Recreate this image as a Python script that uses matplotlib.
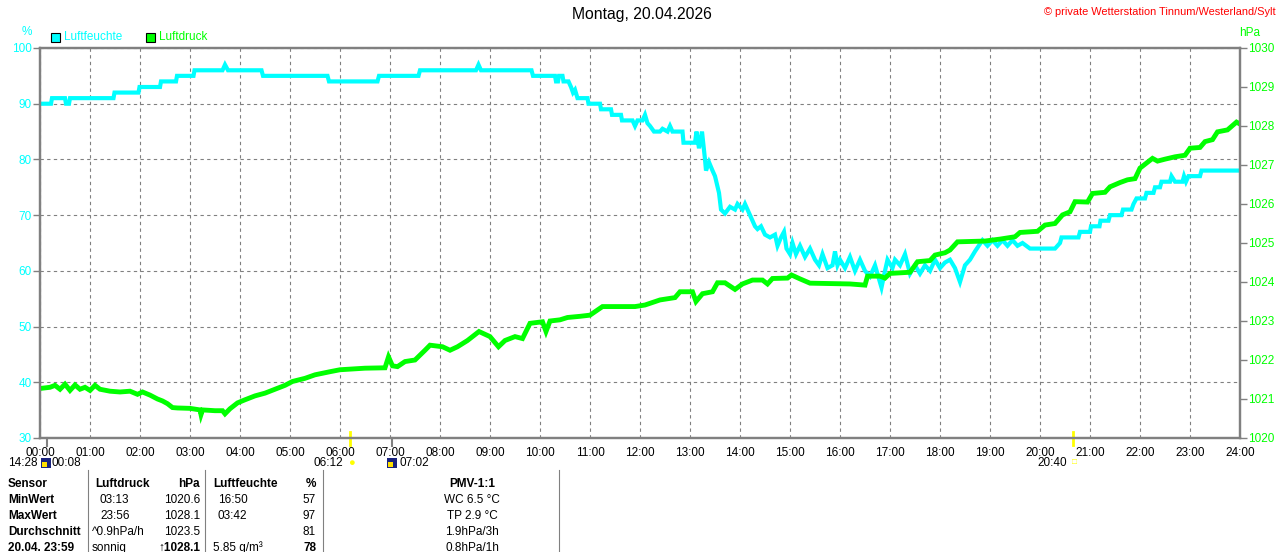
import matplotlib
matplotlib.use("Agg")
import matplotlib.pyplot as plt
from matplotlib.patches import Rectangle

plt.rcParams['font.family'] = ['Liberation Sans', 'DejaVu Sans']

# humidity (%), hours of day
hum_t = [0.0, 0.22, 0.24, 0.5, 0.52, 0.58, 0.6, 1.47, 1.49, 1.97, 1.99, 2.4, 2.42, 2.72, 2.74,
         3.07, 3.09, 3.65, 3.7, 3.76, 4.43, 4.46, 5.75, 5.78, 6.75, 6.78, 7.57, 7.6, 8.72, 8.77,
         8.82, 9.83, 9.86, 10.3, 10.32, 10.36, 10.38, 10.45, 10.47, 10.57, 10.62, 10.66, 10.7,
         10.75, 10.95, 10.97, 11.2, 11.22, 11.42, 11.44, 11.62, 11.64, 11.85, 11.9, 11.95, 12.05,
         12.1, 12.15, 12.2, 12.28, 12.4, 12.45, 12.55, 12.6, 12.65, 12.85, 12.87, 13.1, 13.13,
         13.18, 13.24, 13.3, 13.32, 13.38, 13.45, 13.5, 13.58, 13.62, 13.7, 13.8, 13.9, 13.95,
         14.05, 14.1, 14.2, 14.25, 14.3, 14.35, 14.42, 14.5, 14.6, 14.7, 14.75, 14.82, 14.88,
         14.93, 15.0, 15.05, 15.12, 15.2, 15.3, 15.4, 15.5, 15.58, 15.65, 15.75, 15.85, 15.9,
         15.95, 16.0, 16.1, 16.2, 16.3, 16.4, 16.5, 16.6, 16.7, 16.83, 16.9, 16.95, 17.05, 17.1,
         17.2, 17.3, 17.4, 17.5, 17.6, 17.7, 17.8, 17.9, 18.0, 18.1, 18.2, 18.3, 18.4, 18.5,
         18.6, 18.7, 18.85, 18.95, 19.05, 19.15, 19.25, 19.35, 19.45, 19.55, 19.65, 19.8, 20.3,
         20.4, 20.43, 20.77, 20.8, 21.0, 21.02, 21.19, 21.21, 21.37, 21.4, 21.63, 21.66, 21.83,
         21.87, 21.93, 22.1, 22.13, 22.27, 22.3, 22.4, 22.43, 22.6, 22.63, 22.7, 22.85, 22.88,
         22.92, 22.97, 23.2, 23.23, 24.0]
hum_v = [90, 90, 91, 91, 90, 90, 91, 91, 92, 92, 93, 93, 94, 94, 95,
         95, 96, 96, 97, 96, 96, 95, 95, 94, 94, 95, 95, 96, 96, 97,
         96, 96, 95, 95, 94, 94, 95, 95, 94, 94, 93, 92, 92.5,
         91, 91, 90, 90, 89, 89, 88, 88, 87, 87, 86, 87, 87,
         88, 86.5, 86, 85, 85, 85.5, 85, 86, 85, 85, 83, 83, 85,
         82, 85, 80, 78, 79.5, 78, 77, 74, 71, 70.3, 71.5, 71, 72,
         71, 72, 70, 69, 68, 67.5, 68, 66.5, 66, 66.5, 64.5, 66, 67,
         64, 63, 65, 63, 64.5, 62.5, 64, 62, 61, 63, 60.5, 61, 63.5,
         61, 62, 60.5, 62.5, 60, 62, 60, 59, 61, 57, 60, 62, 60.5, 62,
         61, 63, 59.5, 61, 59.5, 61, 60, 62, 60.5, 61.5, 62, 60.5, 58, 61,
         62, 63.5, 65.5, 64.5, 65.5, 64.5, 65.5, 64.5, 65.5, 64.5, 65, 64, 64,
         65, 66, 66, 67, 67, 68, 68, 69, 69, 70, 70, 71, 71,
         72, 73, 73, 74, 74, 75, 75, 76, 76, 77, 76, 76, 77,
         76, 77, 77, 78, 78]

# air pressure (hPa)
pres_t = [0.0, 0.2, 0.3, 0.4, 0.5, 0.6, 0.7, 0.8, 0.9, 1.0, 1.1, 1.2, 1.4, 1.6, 1.8, 1.95,
          2.05, 2.2, 2.35, 2.45, 2.55, 2.65, 2.75, 3.0, 3.2, 3.22, 3.25, 3.5, 3.65, 3.7, 3.8,
          3.95, 4.1, 4.3, 4.5, 4.7, 4.9, 5.05, 5.3, 5.5, 5.8, 6.0, 6.5, 6.9, 6.97, 7.05, 7.15,
          7.3, 7.5, 7.7, 7.8, 8.05, 8.2, 8.35, 8.55, 8.78, 9.0, 9.17, 9.3, 9.5, 9.65, 9.8,
          10.05, 10.12, 10.2, 10.4, 10.55, 10.8, 11.0, 11.25, 11.9, 12.1, 12.4, 12.7, 12.8,
          13.05, 13.12, 13.25, 13.45, 13.55, 13.7, 13.9, 14.05, 14.25, 14.45, 14.55, 14.65,
          14.95, 15.03, 15.2, 15.4, 16.2, 16.5, 16.55, 16.8, 16.9, 17.0, 17.4, 17.55, 17.8,
          17.9, 18.1, 18.2, 18.35, 18.9, 19.2, 19.5, 19.6, 19.95, 20.1, 20.3, 20.45, 20.6,
          20.7, 20.95, 21.05, 21.3, 21.4, 21.6, 21.75, 21.9, 22.0, 22.25, 22.35, 22.5, 22.7,
          22.9, 23.0, 23.2, 23.3, 23.45, 23.55, 23.75, 23.93, 24.0]
pres_v = [1021.27, 1021.3, 1021.35, 1021.25, 1021.38, 1021.22, 1021.36, 1021.25, 1021.3,
          1021.22, 1021.35, 1021.25, 1021.2, 1021.18, 1021.2, 1021.12, 1021.18, 1021.1,
          1021.0, 1020.95, 1020.88, 1020.78, 1020.77, 1020.76, 1020.72, 1020.6, 1020.72,
          1020.7, 1020.7, 1020.62, 1020.75, 1020.9, 1020.98, 1021.08, 1021.15, 1021.25,
          1021.35, 1021.45, 1021.53, 1021.62, 1021.7, 1021.75, 1021.79, 1021.8, 1022.08,
          1021.85, 1021.83, 1021.96, 1022.0, 1022.25, 1022.38, 1022.34, 1022.25, 1022.34,
          1022.5, 1022.73, 1022.6, 1022.34, 1022.5, 1022.6, 1022.55, 1022.94, 1022.98,
          1022.73, 1023.0, 1023.03, 1023.09, 1023.12, 1023.15, 1023.37, 1023.37, 1023.41,
          1023.54, 1023.6, 1023.75, 1023.75, 1023.5, 1023.7, 1023.75, 1023.98, 1023.98,
          1023.81, 1023.95, 1024.05, 1024.05, 1023.95, 1024.09, 1024.1, 1024.18, 1024.08,
          1023.97, 1023.95, 1023.92, 1024.15, 1024.15, 1024.1, 1024.22, 1024.25, 1024.52,
          1024.55, 1024.69, 1024.75, 1024.82, 1025.03, 1025.05, 1025.1, 1025.16, 1025.27,
          1025.3, 1025.46, 1025.5, 1025.72, 1025.8, 1026.06, 1026.05, 1026.27, 1026.3,
          1026.44, 1026.55, 1026.62, 1026.65, 1026.92, 1027.17, 1027.1, 1027.15, 1027.21,
          1027.25, 1027.43, 1027.45, 1027.6, 1027.65, 1027.85, 1027.9, 1028.1, 1028.05]

hour_labels = ["%02d:00" % h for h in range(25)]
sun_times = [6.2, 20.667]     # sunrise 06:12, sunset 20:40
moon_times = [0.133, 7.033]   # moonset 00:08, moonrise 07:02

CYAN = '#00ffff'
GREEN = '#00ff00'
GREY = '#808080'
FS = 8.5

fig = plt.figure(figsize=(12.8, 5.52), dpi=100)
ax = fig.add_axes([40 / 1280, 114 / 552, 1200 / 1280, 390 / 552])
ax2 = ax.twinx()

ax.plot(hum_t, hum_v, color=CYAN, lw=3, solid_joinstyle='miter')
ax2.plot(pres_t, pres_v, color=GREEN, lw=3.5, solid_joinstyle='miter')

ax.set_xlim(0, 24)
ax.set_ylim(30, 100)
ax2.set_ylim(1020, 1030)

ax.set_xticks(range(25))
ax.set_xticklabels(hour_labels, fontsize=FS)
ax.set_yticks(range(30, 101, 10))
ax.tick_params(axis='y', colors=GREY, labelcolor=CYAN, labelsize=FS, length=5, width=1, pad=1)
ax.tick_params(axis='x', length=0, pad=6.5, labelsize=FS)
ax2.set_yticks(range(1020, 1031))
ax2.tick_params(axis='y', colors=GREY, labelcolor=GREEN, labelsize=FS, length=5, width=1, pad=1)

ax.grid(True, color=GREY, lw=0.8, linestyle=(0, (3, 3)))
for a in (ax, ax2):
    for s in a.spines.values():
        s.set_color(GREY)
        s.set_linewidth(1.6)

# sunrise / sunset and moon markers on the time axis
for t in sun_times:
    ax.plot([t, t], [28.7, 31.0], color='#ffff00', lw=2, clip_on=False)
for t in moon_times:
    ax.plot([t, t], [28.6, 30], color=GREY, lw=1.5, clip_on=False)

# titles and axis units
fig.text(0.5015, 1 - 15 / 552, "Montag, 20.04.2026", ha='center', va='center', fontsize=11.3)
fig.text(1276 / 1280, 1 - 12 / 552, "© private Wetterstation Tinnum/Westerland/Sylt",
         ha='right', va='center', fontsize=7.9, color='red')
fig.text(27 / 1280, 1 - 32 / 552, "%", ha='center', va='center', fontsize=FS, color=CYAN)
fig.text(1250 / 1280, 1 - 33 / 552, "hPa", ha='center', va='center', fontsize=FS, color=GREEN)

# legend
for x0, col, lab in [(51, CYAN, "Luftfeuchte"), (146, GREEN, "Luftdruck")]:
    fig.patches.append(Rectangle((x0 / 1280, 1 - 42 / 552), 9 / 1280, 9 / 552,
                                 transform=fig.transFigure, facecolor=col,
                                 edgecolor='black', lw=0.8))
    fig.text((x0 + 13) / 1280, 1 - 37.5 / 552, lab, ha='left', va='center', fontsize=FS, color=col)

# sun / moon times row
ty = 1 - 463 / 552
fig.text(38 / 1280, ty, "14:28", ha='right', va='center', fontsize=FS)
fig.text(52 / 1280, ty, "00:08", ha='left', va='center', fontsize=FS)
fig.text(343 / 1280, ty, "06:12", ha='right', va='center', fontsize=FS)
fig.text(399 / 1280, ty, "07:02", ha='left', va='center', fontsize=FS)
fig.text(1067 / 1280, ty, "20:40", ha='right', va='center', fontsize=FS)
for x0 in (41, 387):
    fig.patches.append(Rectangle((x0 / 1280, 1 - 468 / 552), 10 / 1280, 10 / 552,
                                 transform=fig.transFigure, facecolor='#1a237e', lw=0))
    fig.patches.append(Rectangle(((x0 + 1) / 1280, 1 - 467 / 552), 5 / 1280, 5 / 552,
                                 transform=fig.transFigure, facecolor='#ffe000', lw=0))
fig.text(351 / 1280, ty, "●", ha='center', va='center', fontsize=8, color='#ffff00')
fig.text(1074 / 1280, ty, "□", ha='center', va='center', fontsize=6, color='#ffff00')

# table below the chart
for xl in (88, 205, 323, 559):
    fig.add_artist(plt.Line2D([xl / 1280, xl / 1280], [0, 1 - 470 / 552],
                              color=GREY, lw=0.8, transform=fig.transFigure))

rows_y = [484, 500, 516, 532, 548]
row_names = ["Sensor", "MinWert", "MaxWert", "Durchschnitt", "20.04. 23:59"]
pres_time = ["Luftdruck", "03:13", "23:56", "^0.9hPa/h", "sonnig"]
pres_val = ["hPa", "1020.6", "1028.1", "1023.5", "↑1028.1"]
hum_time = ["Luftfeuchte", "16:50", "03:42", "", "5.85 g/m³"]
hum_val = ["%", "57", "97", "81", "78"]
pmv = ["PMV-1:1", "WC 6.5 °C", "TP 2.9 °C", "1.9hPa/3h", "0.8hPa/1h"]

for i, yy in enumerate(rows_y):
    y = 1 - yy / 552
    fig.text(8 / 1280, y, row_names[i], ha='left', va='center', fontsize=FS, fontweight='bold')
    head = 'bold' if i == 0 else 'normal'
    xoff = 95 if i == 0 else (92 if i >= 3 else 100)
    fig.text(xoff / 1280, y, pres_time[i], ha='left', va='center', fontsize=FS, fontweight=head)
    fig.text(200 / 1280, y, pres_val[i], ha='right', va='center', fontsize=FS,
             fontweight='bold' if i in (0, 4) else 'normal')
    fig.text((213 if i in (0, 4) else 218) / 1280, y, hum_time[i], ha='left', va='center',
             fontsize=FS, fontweight=head)
    fig.text(316 / 1280, y, hum_val[i], ha='right', va='center', fontsize=FS,
             fontweight='bold' if i in (0, 4) else 'normal')
    fig.text(472 / 1280, y, pmv[i], ha='center', va='center', fontsize=FS, fontweight=head)

fig.savefig("out.png", dpi=100)
